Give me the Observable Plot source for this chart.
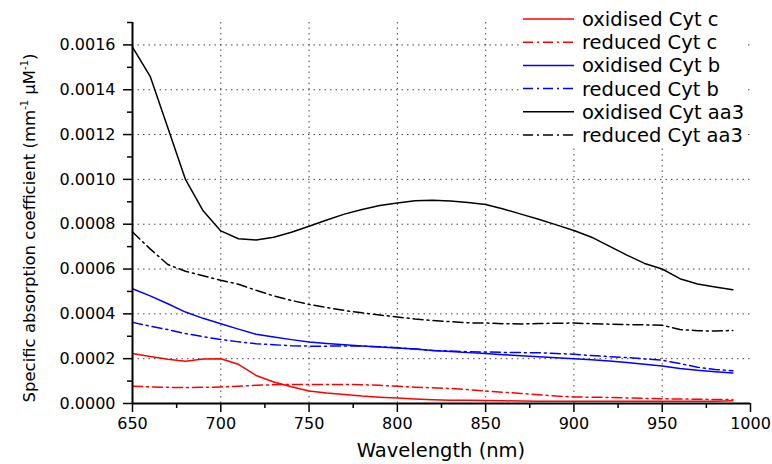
<!DOCTYPE html>
<html><head><meta charset="utf-8">
<script src="https://cdn.jsdelivr.net/npm/d3@7"></script>
<script src="https://cdn.jsdelivr.net/npm/@observablehq/plot@0.6"></script>
<style>body{margin:0;background:#fff} svg{display:block}</style>
</head><body><div id="chart"></div>
<script>
// Wavelengths (nm)
const wavelengths = [650,660,670,680,690,700,710,720,730,740,750,760,770,780,790,800,810,820,830,840,850,860,870,880,890,900,910,920,930,940,950,960,970,980,990];
// Values in units of 1e-4 mm^-1 uM^-1
const oxCytC  = [2.23,2.10,1.97,1.88,1.99,2.00,1.75,1.25,0.96,0.75,0.56,0.47,0.40,0.33,0.28,0.24,0.20,0.17,0.15,0.14,0.13,0.12,0.11,0.10,0.10,0.10,0.10,0.10,0.10,0.10,0.10,0.10,0.10,0.10,0.12];
const redCytC = [0.77,0.74,0.72,0.71,0.72,0.74,0.77,0.81,0.84,0.85,0.85,0.85,0.85,0.84,0.81,0.77,0.73,0.70,0.67,0.62,0.56,0.50,0.45,0.39,0.33,0.29,0.28,0.27,0.25,0.23,0.21,0.20,0.19,0.18,0.18];
const oxCytB  = [5.12,4.80,4.45,4.08,3.80,3.56,3.32,3.09,2.97,2.85,2.74,2.68,2.62,2.57,2.52,2.48,2.43,2.37,2.32,2.27,2.23,2.18,2.13,2.09,2.04,2.00,1.95,1.90,1.83,1.75,1.67,1.56,1.48,1.42,1.36];
const redCytB = [3.62,3.45,3.30,3.12,2.98,2.86,2.75,2.67,2.62,2.58,2.56,2.56,2.57,2.56,2.53,2.49,2.43,2.37,2.34,2.31,2.30,2.28,2.27,2.27,2.23,2.20,2.14,2.09,2.05,1.99,1.93,1.78,1.62,1.52,1.46];
const oxCytAA3  = [15.90,14.60,12.30,10.00,8.60,7.70,7.35,7.30,7.42,7.64,7.91,8.19,8.45,8.66,8.83,8.95,9.05,9.07,9.03,8.97,8.88,8.68,8.45,8.22,7.97,7.72,7.42,7.02,6.62,6.25,6.00,5.57,5.33,5.20,5.08];
const redCytAA3 = [7.65,6.90,6.20,5.90,5.70,5.50,5.32,5.05,4.80,4.60,4.42,4.28,4.15,4.05,3.95,3.86,3.77,3.70,3.65,3.60,3.59,3.56,3.55,3.57,3.58,3.59,3.56,3.54,3.52,3.51,3.49,3.30,3.25,3.23,3.26];

const seriesNames  = ["oxidised Cyt c","reduced Cyt c","oxidised Cyt b","reduced Cyt b","oxidised Cyt aa3","reduced Cyt aa3"];
const seriesValues = [oxCytC, redCytC, oxCytB, redCytB, oxCytAA3, redCytAA3];
const seriesColors = ["#ff0000","#ff0000","#0000ff","#0000ff","#000000","#000000"];
const seriesDash   = [null,"10,4,2,4",null,"10,4,2,4",null,"10,4,2,4"];

const xMajor = [650,700,750,800,850,900,950,1000];
const xMinor = [675,725,775,825,875,925,975];
const xGrid  = [700,750,800,850,900,950];
const yMajor = [0,0.0002,0.0004,0.0006,0.0008,0.0010,0.0012,0.0014,0.0016];
const yMinor = [0.0001,0.0003,0.0005,0.0007,0.0009,0.0011,0.0013,0.0015,0.0017];
const yGrid  = [0.0002,0.0004,0.0006,0.0008,0.0010,0.0012,0.0014,0.0016];

const gridStyle = {stroke: "#444", strokeWidth: 1, strokeDasharray: "1.5,4"};

const lineMarks = seriesValues.map((vals, k) =>
  Plot.line(wavelengths, {
    x: d => d,
    y: (d, i) => vals[i] * 1e-4,
    stroke: seriesColors[k],
    strokeWidth: 1.5,
    strokeDasharray: seriesDash[k] || undefined
  })
);

const plot = Plot.plot({
  width: 772, height: 464,
  marginLeft: 132, marginRight: 22, marginTop: 22, marginBottom: 61,
  style: {fontFamily: "DejaVu Sans", background: "#fff", color: "#000"},
  x: {domain: [650, 1000]},
  y: {domain: [0, 0.0017]},
  marks: [
    Plot.ruleX(xGrid, gridStyle),
    Plot.ruleY(yGrid, gridStyle),
    ...lineMarks,
    Plot.axisX({ticks: xMajor, tickSize: 9, tickPadding: 5, tickFormat: d => String(d), fontSize: 16, strokeWidth: 1.5, label: null}),
    Plot.axisX({ticks: xMinor, tickSize: 5, tickFormat: () => "", strokeWidth: 1.5, label: null}),
    Plot.axisY({ticks: yMajor, tickSize: 9, tickPadding: 8, tickFormat: d3.format(".4f"), fontSize: 16, strokeWidth: 1.5, label: null}),
    Plot.axisY({ticks: yMinor, tickSize: 5, tickFormat: () => "", strokeWidth: 1.5, label: null}),
    Plot.ruleX([650], {strokeWidth: 2}),
    Plot.ruleY([0], {strokeWidth: 2})
  ]
});

const svg = d3.select(plot);

// X axis title
svg.append("text")
  .attr("x", 441).attr("y", 457)
  .attr("text-anchor", "middle")
  .attr("font-family", "DejaVu Sans").attr("font-size", 19.5)
  .text("Wavelength (nm)");

// Y axis title with superscripts
const yt = svg.append("text")
  .attr("transform", "translate(35,228) rotate(-90)")
  .attr("text-anchor", "middle")
  .attr("font-family", "DejaVu Sans").attr("font-size", 16.5);
yt.append("tspan").text("Specific absorption coefficient (mm");
yt.append("tspan").attr("dy", -7).attr("font-size", 10).text("-1");
yt.append("tspan").attr("dy", 7).text("\u00A0\u03BCM");
yt.append("tspan").attr("dy", -7).attr("font-size", 10).text("-1");
yt.append("tspan").attr("dy", 7).text(")");

// Legend
const lg = svg.append("g").attr("text-anchor", "start");
lg.append("rect").attr("x", 519).attr("y", 0).attr("width", 229).attr("height", 146).attr("fill", "#fff");
seriesNames.forEach((name, i) => {
  const yy = 19 + i * 23.2;
  lg.append("line")
    .attr("x1", 523).attr("x2", 574).attr("y1", yy).attr("y2", yy)
    .attr("stroke", seriesColors[i]).attr("stroke-width", 1.5)
    .attr("stroke-dasharray", seriesDash[i] || null);
  lg.append("text")
    .attr("x", 582).attr("y", yy).attr("dy", "0.36em")
    .attr("text-anchor", "start")
    .attr("font-family", "DejaVu Sans").attr("font-size", 19.5)
    .text(name);
});

document.getElementById("chart").appendChild(plot);
</script>
</body></html>
